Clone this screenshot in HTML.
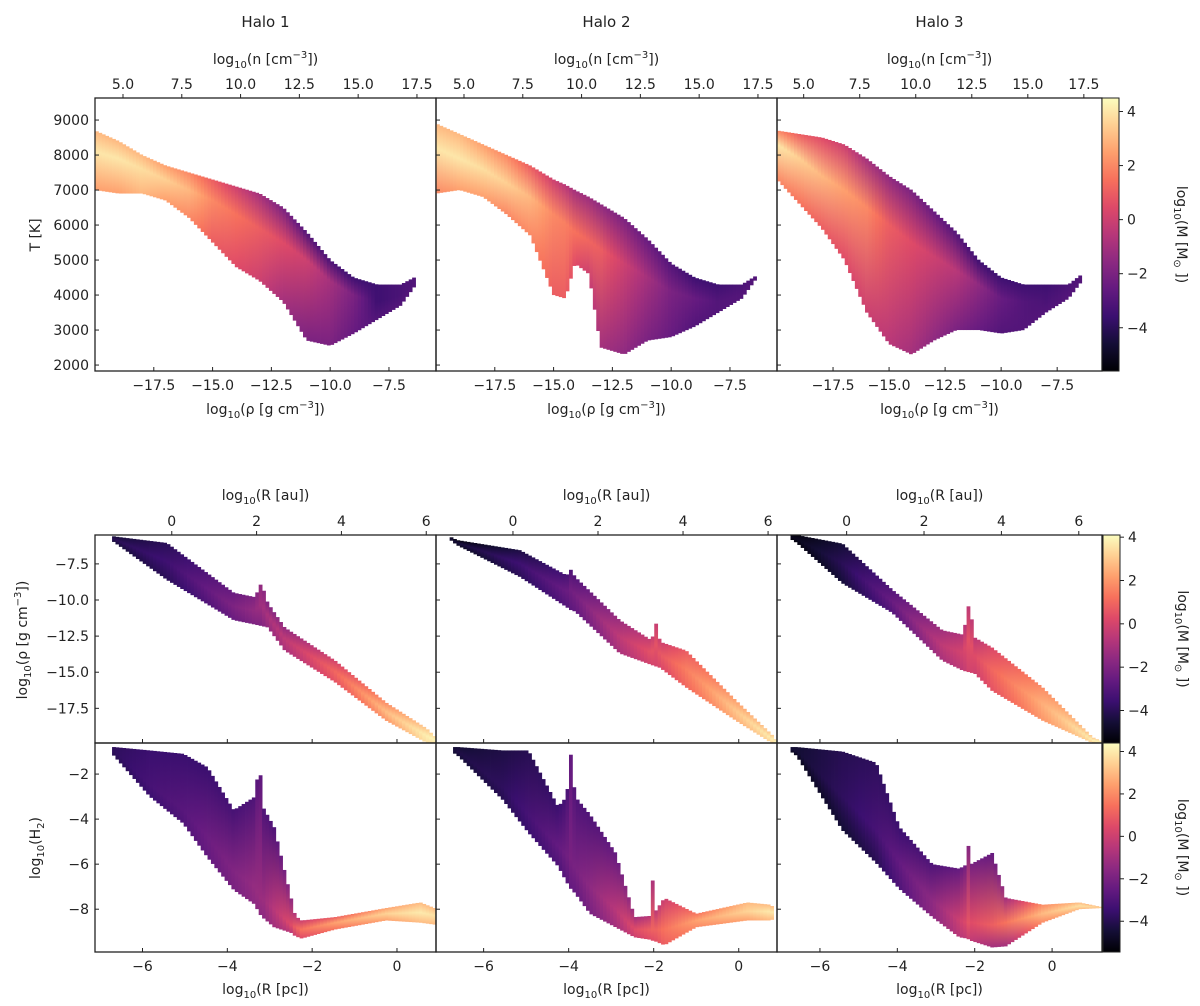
<!DOCTYPE html>
<html><head><meta charset="utf-8">
<style>
html,body{margin:0;padding:0;background:#fff;}
svg{display:block;font-family:"DejaVu Sans","Liberation Sans",sans-serif;}
</style></head>
<body>
<svg id="fig" width="1200" height="1006" viewBox="0 0 1200 1006" xmlns="http://www.w3.org/2000/svg">
<defs id="defs"></defs>
<rect x="0" y="0" width="1200" height="1006" fill="#fff"/>
</svg>
<script>
// ---------- data: Halo 1/2/3, T vs rho ----------
const tH1x=[-20,-19,-18,-17,-16,-15,-14,-13,-12,-11,-10,-9,-8,-7,-6.3];
const tH1lo=[7000,6900,6900,6700,6200,5500,4800,4400,3800,2700,2550,2900,3300,3700,4350];
const tH1hi=[8700,8400,8000,7700,7500,7300,7100,6900,6500,5800,5000,4500,4300,4300,4550];
const tH1rid=[8100,7900,7600,7300,7000,6700,6300,5900,5500,5000,4400,4000,3800,4000,4450];
const tH1mLo=[2.5,2.5,3,2.5,2,1,0.5,0,-1,-2,-2,-2.5,-3,-3,-3];
const tH1mRid=[4,4,3.8,3.5,3,2,1.5,1,0.5,0,-1,-2,-3.5,-3.2,-3];
const tH1mHi=[3,3,3,2.5,2,1,0,-1,-2,-3,-3.2,-3.5,-3.5,-3.2,-3];

const tH2x=[-20,-19,-18,-17,-16,-15,-14.5,-14.1,-13.5,-13,-12,-11,-10,-9,-8,-7,-6.4];
const tH2lo=[6900,7000,6800,6300,5700,4000,3900,4900,4600,2500,2300,2700,2800,3100,3500,3900,4450];
const tH2hi=[8900,8600,8300,8000,7700,7300,7150,7000,6800,6600,6200,5600,4900,4500,4300,4300,4550];
const tH2rid=[8200,7900,7600,7200,6800,6300,6050,5800,5550,5300,4900,4500,4100,3900,3800,4000,4500];
const tH2mLo=[2,2.5,2.5,2,2,1,1,0.5,0,-1,-1.5,-2,-2.5,-3,-3,-3,-3];
const tH2mRid=[4,4,3.8,3.5,3,2,1.8,1.5,1.2,1,0,-1,-2,-2.5,-3,-3,-3];
const tH2mHi=[3,3,2.5,2,1,0,-0.5,-1,-1.2,-1.5,-2,-2.5,-3,-3.5,-3.5,-3.2,-3];

const tH3x=[-20,-19,-18,-17,-16,-15,-14,-13,-12,-11,-10,-9,-8,-7,-6.4];
const tH3lo=[7300,6600,5900,5000,3500,2600,2300,2700,3000,3000,2900,3000,3500,3900,4400];
const tH3hi=[8700,8600,8500,8300,7900,7400,7000,6400,5800,5000,4500,4300,4300,4300,4600];
const tH3rid=[8300,7900,7400,7000,6500,6000,5500,5100,4700,4300,3900,3800,3800,4000,4500];
const tH3mLo=[2,1.5,1,0.5,0,-0.5,-1,-1.5,-2,-2.5,-3,-3,-3,-3,-3];
const tH3mRid=[4,3.5,3,2.5,2,1,0.5,0,-0.5,-1.5,-2.5,-3,-3.2,-3,-3];
const tH3mHi=[2,1,0.5,0,-1,-1.5,-2,-2.5,-3,-3.5,-3.5,-3.5,-3.5,-3.2,-3];

// ---------- data: rho vs R ----------
const rH1x=[-6.75,-6.67,-5.43,-3.85,-3.35,-3.2,-3.05,-2.65,-1.46,-0.26,0.7,0.94];
const rH1lo=[-5.8,-6.0,-8.6,-11.4,-11.7,-11.8,-11.9,-13.5,-15.7,-18.35,-19.9,-19.9];
const rH1hi=[-5.5,-5.6,-6.05,-9.5,-9.8,-8.8,-10.2,-11.9,-14.2,-17.1,-18.9,-19.6];
const rH1mRid=[-4,-4,-3.5,-2,-1.5,-1.2,-1,-0.5,1,2.8,3.8,4];
const rH1mLo=[-4.5,-4.5,-4,-2.5,-2,-2,-1.5,-1,0.5,2,3.5,3.5];
const rH1mHi=[-4.5,-4.5,-4,-2.5,-2,-1.5,-2,-1.5,0,1.8,3,3.5];

const rH2x=[-6.8,-6.63,-5.15,-4.05,-3.95,-3.85,-2.8,-2.05,-1.95,-1.85,-1.24,-0.07,0.77,0.9];
const rH2lo=[-5.8,-6.2,-8.4,-10.5,-10.7,-10.8,-13.7,-14.5,-14.6,-14.7,-16.05,-18.35,-19.9,-19.9];
const rH2hi=[-5.6,-5.85,-6.55,-8.3,-7.9,-8.4,-11.4,-12.8,-11.6,-12.9,-13.5,-16.95,-19.3,-19.8];
const rH2mRid=[-4.5,-4.5,-3.5,-2.5,-2.3,-2.2,-0.5,0.5,0.5,0.6,1.5,3,3.8,4];
const rH2mLo=[-5,-5,-4,-3,-2.8,-2.7,-1,0,0,0.1,1,2.5,3.3,3.5];
const rH2mHi=[-5.3,-5.3,-4.3,-3.3,-3.1,-3,-1.3,-0.3,-0.3,-0.2,0.7,2.2,3,3.2];

const rH3x=[-6.8,-6.6,-5.42,-4.13,-2.84,-2.3,-2.15,-2.0,-1.55,-0.25,1.04,1.3];
const rH3lo=[-5.7,-6.05,-8.85,-10.9,-14.2,-14.9,-15.0,-15.1,-16.3,-18.35,-19.9,-19.9];
const rH3hi=[-5.5,-5.5,-6.1,-9.3,-12.1,-12.4,-10.2,-12.6,-13.3,-16.05,-19.5,-19.8];
const rH3mRid=[-5,-5,-4,-2.5,-0.5,0,0.5,0.3,1,2.5,3.8,4];
const rH3mLo=[-5.3,-5.3,-4.5,-3,-1,-0.5,0,-0.2,0.5,2,3.3,3.5];
const rH3mHi=[-5.3,-5.3,-4.5,-3,-1.2,-0.8,-0.5,-0.6,0.2,1.8,3,3.2];

// ---------- data: H2 vs R ----------
const hH1x=[-6.75,-6.67,-5.83,-5.04,-4.47,-3.85,-3.35,-3.25,-3.15,-2.9,-2.5,-2.4,-2.25,-1.46,-0.26,0.55,0.95];
const hH1lo=[-1.0,-1.2,-3.0,-4.2,-5.7,-7.15,-7.8,-8.2,-8.4,-8.8,-9.05,-9.2,-9.3,-8.9,-8.5,-8.6,-8.7];
const hH1hi=[-0.8,-0.8,-0.95,-1.1,-1.7,-3.6,-3.0,-1.45,-3.5,-4.35,-7.5,-8.3,-8.5,-8.35,-7.95,-7.7,-8.0];
const hH1rid=[-0.9,-1.0,-2.5,-3.6,-4.8,-6.3,-7.0,-7.5,-7.6,-8.0,-8.7,-8.8,-8.9,-8.6,-8.2,-8.15,-8.3];
const hH1mLo=[-4,-4,-3.5,-3,-2.5,-2,-1.5,-1.5,-1.5,-1,-0.5,0,0.5,1.5,2.5,3,3];
const hH1mRid=[-4,-3.8,-3.2,-2.8,-2.3,-1.8,-1.3,-1.2,-1.2,-0.5,0.5,1,1.5,2.5,3.5,4,3.8];
const hH1mHi=[-4,-3.8,-3.5,-3.5,-3.5,-3.2,-3,-2.5,-3,-3,-1.5,-0.5,0,1,2.5,3,3];

const hH2x=[-6.75,-6.6,-5.55,-4.95,-4.25,-4.05,-3.95,-3.85,-3.5,-2.9,-2.45,-2.1,-2.05,-2.0,-1.75,-1.0,0.2,0.75,0.85];
const hH2lo=[-1.0,-1.2,-3.15,-4.6,-6.1,-6.8,-7.1,-7.3,-8.2,-8.8,-9.25,-9.35,-9.4,-9.4,-9.6,-8.8,-8.5,-8.5,-8.4];
const hH2hi=[-0.8,-0.8,-0.95,-0.95,-3.45,-3.0,-1.1,-3.0,-3.8,-5.5,-8.35,-8.3,-5.5,-8.2,-7.5,-8.2,-7.7,-7.8,-8.0];
const hH2rid=[-0.9,-1.0,-2.6,-3.8,-5.2,-5.6,-5.8,-6.2,-7.0,-8.0,-8.9,-8.9,-8.9,-8.9,-8.9,-8.5,-8.1,-8.1,-8.2];
const hH2mLo=[-4.5,-4.5,-4,-3.5,-3,-2.8,-2.5,-2.5,-2,-1,0,0.5,0.5,0.5,1,2,2.5,3,3];
const hH2mRid=[-4.5,-4.2,-3.8,-3.2,-2.5,-2.2,-2,-2,-1.5,-0.5,0.5,1,1.2,1,1.5,2.5,3.5,4,3.8];
const hH2mHi=[-4.5,-4.5,-4.2,-4,-3.5,-3.2,-2.5,-3,-3,-2.5,-1,-0.5,-1,-0.5,0,1.5,3,3,3];

const hH3x=[-6.75,-6.6,-5.42,-4.55,-3.95,-3.1,-2.4,-2.2,-2.15,-2.1,-1.55,-1.2,-0.25,0.7,1.27];
const hH3lo=[-1.0,-1.2,-4.5,-5.95,-7.1,-8.35,-9.25,-9.3,-9.35,-9.4,-9.7,-9.65,-8.6,-8.0,-7.95];
const hH3hi=[-0.8,-0.8,-1.0,-1.5,-4.35,-6.0,-6.2,-6.0,-4.8,-6.0,-5.5,-7.5,-7.8,-7.7,-7.9];
const hH3rid=[-0.9,-1.0,-3.0,-4.5,-5.9,-7.6,-8.5,-8.6,-8.6,-8.6,-8.7,-8.6,-8.2,-7.85,-7.92];
const hH3mLo=[-5,-5,-4.5,-4,-3,-1.5,-0.5,-0.3,0,-0.3,-1,-1,2,3,3];
const hH3mRid=[-4.5,-4.5,-3.8,-3.2,-2.5,-1.5,0,0.5,0.8,0.5,1,1.5,3,3.8,3.5];
const hH3mHi=[-4.5,-4.5,-4,-3.8,-3.5,-3,-2.5,-2,-1.5,-2,-2.5,-1,2,3,3];

// ---------- tick labels ----------
const rhoTicks=[-17.5,-15,-12.5,-10,-7.5];
const rhoTickLabels=["\u221217.5","\u221215.0","\u221212.5","\u221210.0","\u22127.5"];
const nTicks=[5,7.5,10,12.5,15,17.5];
const nTickLabels=["5.0","7.5","10.0","12.5","15.0","17.5"];
const tTicks=[2000,3000,4000,5000,6000,7000,8000,9000];
const pcTicks=[-6,-4,-2,0];
const pcTickLabels=["\u22126","\u22124","\u22122","0"];
const auTicks=[0,2,4,6];
const rhoYTicks=[-7.5,-10,-12.5,-15,-17.5];
const rhoYTickLabels=["\u22127.5","\u221210.0","\u221212.5","\u221215.0","\u221217.5"];
const h2Ticks=[-2,-4,-6,-8];
const h2TickLabels=["\u22122","\u22124","\u22126","\u22128"];
const cbTicks=[-4,-2,0,2,4];
const cbTickLabels=["\u22124","\u22122","0","2","4"];

// ---------- rendering ----------
const NS="http://www.w3.org/2000/svg";
const svg=document.getElementById('fig');
const defs=document.getElementById('defs');
function mk(tag,attrs,parent){const e=document.createElementNS(NS,tag);for(const k in attrs)e.setAttribute(k,attrs[k]);(parent||svg).appendChild(e);return e;}
const magma=[[0,0,4],[20,14,54],[59,15,112],[100,26,128],[140,41,129],[183,55,121],[222,73,104],[247,112,92],[254,159,109],[254,207,146],[252,253,191]];
function cmap(t){t=Math.max(0,Math.min(1,t));const f=t*10,i=Math.min(9,Math.floor(f)),r=f-i;const a=magma[i],b=magma[i+1];
 return 'rgb('+[0,1,2].map(k=>Math.round(a[k]+(b[k]-a[k])*r)).join(',')+')';}
function interp(xs,ys,x){for(let i=0;i<xs.length-1;i++){if(x>=xs[i]&&x<=xs[i+1]){const r=(x-xs[i])/((xs[i+1]-xs[i])||1);return ys[i]+(ys[i+1]-ys[i])*r;}}return null;}
let gid=0;
function text(x,y,s,opts,name){const t=mk('text',Object.assign({x:x,y:y,'font-size':14,fill:'#222'},opts||{}));t.textContent=s;
 
 return t;}

function panel(P){
 const g=mk('g',{});
 
 
 const sx=v=>P.x0+(v-P.xr[0])/(P.xr[1]-P.xr[0])*(P.x1-P.x0);
 const sy=v=>P.y1-(v-P.yr[0])/(P.yr[1]-P.yr[0])*(P.y1-P.y0);
 const cid='clip'+(gid++);
 const cp=mk('clipPath',{id:cid},defs);mk('rect',{x:P.x0,y:P.y0,width:P.x1-P.x0,height:P.y1-P.y0},cp);
 const hg=mk('g',{'clip-path':'url(#'+cid+')'},g);
 
 
 const D=P.d; const nb=Math.round((P.x1-P.x0)/3.4); const bw=(P.x1-P.x0)/nb;
 for(let i=0;i<nb;i++){
  const xv=P.xr[0]+(i+0.5)/nb*(P.xr[1]-P.xr[0]);
  const lo=interp(D.x,D.lo,xv); if(lo===null)continue;
  const hi=interp(D.x,D.hi,xv);
  const rid=D.rid?interp(D.x,D.rid,xv):(lo+hi)/2;
  const mLo=interp(D.x,D.mLo,xv),mRid=interp(D.x,D.mRid,xv),mHi=interp(D.x,D.mHi,xv);
  const yt=sy(hi),yb=sy(lo); if(yb-yt<0.5)continue;
  const gi='g'+(gid++);
  const lg=mk('linearGradient',{id:gi,x1:0,y1:0,x2:0,y2:1},defs);
  const off=Math.max(0,Math.min(1,(sy(rid)-yt)/(yb-yt)));
  const n=(m)=>cmap((m-P.cr[0])/(P.cr[1]-P.cr[0]));
  mk('stop',{offset:0,'stop-color':n(mHi)},lg);
  mk('stop',{offset:off,'stop-color':n(mRid)},lg);
  mk('stop',{offset:1,'stop-color':n(mLo)},lg);
  const r=mk('rect',{x:(sx(xv)-bw/2).toFixed(2),y:yt.toFixed(2),width:(bw+0.4).toFixed(2),height:(yb-yt).toFixed(2),fill:'url(#'+gi+')'},hg);
  
  
 }
 const fr=mk('rect',{x:P.x0,y:P.y0,width:P.x1-P.x0,height:P.y1-P.y0,fill:'none',stroke:'#222','stroke-width':1.3},g);
 
 
 P.bt.forEach((v,k)=>{const X=sx(v);mk('line',{x1:X,x2:X,y1:P.y1,y2:P.y1-4,stroke:'#222'},g);
   if(P.btl)text(X,P.y1+19,P.btl[k],{'text-anchor':'middle'},'x-tick-label');});
 P.lt.forEach((v,k)=>{const Y=sy(v);mk('line',{x1:P.x0,x2:P.x0+4,y1:Y,y2:Y,stroke:'#222'},g);
   if(P.ltl)text(P.x0-6,Y+5,P.ltl[k],{'text-anchor':'end'},'y-tick-label');});
 if(P.tt){P.tt.forEach((v,k)=>{const X=sx(v-P.toff);mk('line',{x1:X,x2:X,y1:P.y0,y2:P.y0-4,stroke:'#222'},g);
   text(X,P.y0-9,P.ttl[k],{'text-anchor':'middle'},'top-tick-label');});}
 return {sx,sy};
}
function colorbar(x0,y0,x1,y1,cr,name){
 const g=mk('g',{});
 
 
 const gi='cb'+(gid++);const lg=mk('linearGradient',{id:gi,x1:0,y1:1,x2:0,y2:0},defs);
 for(let i=0;i<=10;i++)mk('stop',{offset:i/10,'stop-color':cmap(i/10)},lg);
 mk('rect',{x:x0,y:y0,width:x1-x0,height:y1-y0,fill:'url(#'+gi+')',stroke:'#222','stroke-width':1},g);
 const sy=v=>y1-(v-cr[0])/(cr[1]-cr[0])*(y1-y0);
 cbTicks.forEach((v,k)=>{const Y=sy(v);mk('line',{x1:x1,x2:x1+4,y1:Y,y2:Y,stroke:'#222'},g);
  text(x1+8,Y+5,cbTickLabels[k],{},'colorbar-tick-label');});
 const t=text(0,0,'',{'text-anchor':'middle',transform:'translate('+(x1+58)+','+((y0+y1)/2)+') rotate(90)'},'colorbar-label');
 t.innerHTML='log<tspan font-size="10" dy="3">10</tspan><tspan dy="-3">(M [M</tspan><tspan font-size="10" dy="3">\u2299</tspan><tspan dy="-3"> ])</tspan>';
}

const PX=[[95,436],[436,777],[777,1102]];
const tData=[
 {x:tH1x,lo:tH1lo,hi:tH1hi,rid:tH1rid,mLo:tH1mLo,mRid:tH1mRid,mHi:tH1mHi},
 {x:tH2x,lo:tH2lo,hi:tH2hi,rid:tH2rid,mLo:tH2mLo,mRid:tH2mRid,mHi:tH2mHi},
 {x:tH3x,lo:tH3lo,hi:tH3hi,rid:tH3rid,mLo:tH3mLo,mRid:tH3mRid,mHi:tH3mHi}];
const rData=[
 {x:rH1x,lo:rH1lo,hi:rH1hi,mLo:rH1mLo,mRid:rH1mRid,mHi:rH1mHi},
 {x:rH2x,lo:rH2lo,hi:rH2hi,mLo:rH2mLo,mRid:rH2mRid,mHi:rH2mHi},
 {x:rH3x,lo:rH3lo,hi:rH3hi,mLo:rH3mLo,mRid:rH3mRid,mHi:rH3mHi}];
const hData=[
 {x:hH1x,lo:hH1lo,hi:hH1hi,rid:hH1rid,mLo:hH1mLo,mRid:hH1mRid,mHi:hH1mHi},
 {x:hH2x,lo:hH2lo,hi:hH2hi,rid:hH2rid,mLo:hH2mLo,mRid:hH2mRid,mHi:hH2mHi},
 {x:hH3x,lo:hH3lo,hi:hH3hi,rid:hH3rid,mLo:hH3mLo,mRid:hH3mRid,mHi:hH3mHi}];
const rX=[[-7.12,0.92],[-7.12,0.9],[-7.11,1.29]];

for(let c=0;c<3;c++){
 const [x0,x1]=PX[c]; const cx=(x0+x1)/2;
 text(cx,27,'Halo '+(c+1),{'text-anchor':'middle','font-size':15},'halo-title');
 panel({name:'temperature-density-panel-halo'+(c+1),x0,x1,y0:98,y1:371,xr:[-20,-5.5],yr:[1830,9630],cr:[-5.6,4.5],d:tData[c],
  bt:rhoTicks,btl:rhoTickLabels,lt:tTicks,ltl:c===0?tTicks.map(String):null,tt:nTicks,ttl:nTickLabels,toff:23.81});
 const t1=text(cx,64,'',{'text-anchor':'middle','font-size':14},'top-x-axis-title');
 t1.innerHTML='log<tspan font-size="10" dy="4">10</tspan><tspan dy="-4">(n [cm</tspan><tspan font-size="10" dy="-6">\u22123</tspan><tspan dy="6">])</tspan>';
 const t2=text(cx,414,'',{'text-anchor':'middle','font-size':14},'x-axis-title');
 t2.innerHTML='log<tspan font-size="10" dy="4">10</tspan><tspan dy="-4">(\u03c1 [g cm</tspan><tspan font-size="10" dy="-6">\u22123</tspan><tspan dy="6">])</tspan>';

 panel({name:'density-radius-panel-halo'+(c+1),x0,x1,y0:535,y1:743,xr:rX[c],yr:[-19.9,-5.5],cr:[-5.5,4.1],d:rData[c],
  bt:pcTicks,btl:null,lt:rhoYTicks,ltl:c===0?rhoYTickLabels:null,tt:auTicks,ttl:auTicks.map(String),toff:5.31});
 const t3=text(cx,500,'',{'text-anchor':'middle','font-size':14},'top-x-axis-title');
 t3.innerHTML='log<tspan font-size="10" dy="4">10</tspan><tspan dy="-4">(R [au])</tspan>';

 panel({name:'h2-radius-panel-halo'+(c+1),x0,x1,y0:743,y1:952,xr:rX[c],yr:[-9.9,-0.62],cr:[-5.45,4.4],d:hData[c],
  bt:pcTicks,btl:pcTickLabels,lt:h2Ticks,ltl:c===0?h2TickLabels:null});
 const t4=text(cx,994,'',{'text-anchor':'middle','font-size':14},'x-axis-title');
 t4.innerHTML='log<tspan font-size="10" dy="4">10</tspan><tspan dy="-4">(R [pc])</tspan>';
}
const y1=text(0,0,'T [K]',{'text-anchor':'middle','font-size':14,transform:'translate(40,235) rotate(-90)'},'y-axis-title');
const y2=text(0,0,'',{'text-anchor':'middle','font-size':14,transform:'translate(27,640) rotate(-90)'},'y-axis-title');
y2.innerHTML='log<tspan font-size="10" dy="4">10</tspan><tspan dy="-4">(\u03c1 [g cm</tspan><tspan font-size="10" dy="-6">\u22123</tspan><tspan dy="6">])</tspan>';
const y3=text(0,0,'',{'text-anchor':'middle','font-size':14,transform:'translate(40,848) rotate(-90)'},'y-axis-title');
y3.innerHTML='log<tspan font-size="10" dy="4">10</tspan><tspan dy="-4">(H</tspan><tspan font-size="10" dy="4">2</tspan><tspan dy="-4">)</tspan>';

colorbar(1102,98,1119,371,[-5.6,4.5],'colorbar-top');
colorbar(1103,535,1120,743,[-5.5,4.1],'colorbar-density');
colorbar(1103,743,1120,952,[-5.45,4.4],'colorbar-h2');
</script>
</body></html>
